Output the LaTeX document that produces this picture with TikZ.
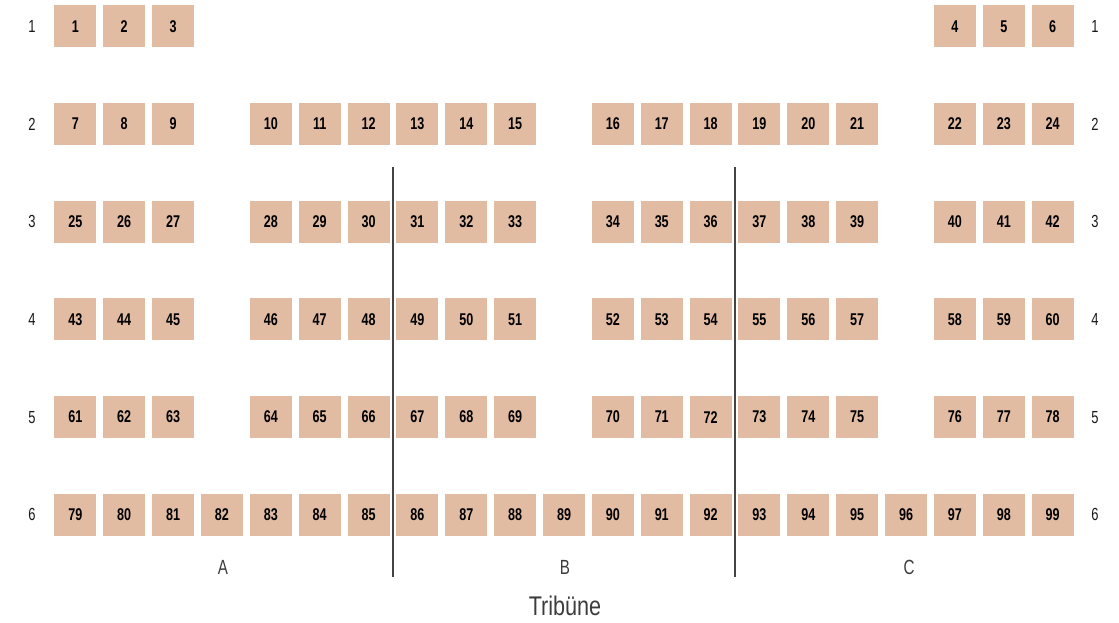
\documentclass[tikz,border=0pt]{standalone}
\usepackage{fontspec}
\setmainfont{Liberation Sans}[FakeStretch=0.74]
\newfontfamily\tribfont{Liberation Sans}[FakeStretch=0.8]
\definecolor{seat}{RGB}{225,187,162}
\definecolor{linec}{RGB}{68,68,68}
\definecolor{labc}{RGB}{60,60,60}
\begin{document}
\begin{tikzpicture}[x=1pt,y=-1pt,
  seatbox/.style={fill=seat, minimum size=42pt, inner sep=0pt, text=black,
    font=\fontsize{17}{17}\selectfont\bfseries},
  rowlab/.style={inner sep=0pt, text=black!90, font=\fontsize{17.5}{17.5}\selectfont},
  seclab/.style={inner sep=0pt, text=labc, font=\fontsize{20.5}{20.5}\selectfont},
  tribune/.style={inner sep=0pt, text=labc, font=\tribfont\fontsize{27}{27}\selectfont},
  sepline/.style={draw=linec, line width=1.3pt}]
\useasboundingbox (0,0) rectangle (1119,622);
% row 1
\foreach \c/\n in {1/1,2/2,3/3,19/4,20/5,21/6}
  \node[seatbox] (s\n) at ({75.3+(\c-1)*48.87},26.3) {\n};
% rows 2-5
\foreach \r in {2,...,5}{
  \foreach \c [count=\i from 0] in {1,2,3,5,6,7,8,9,10,12,13,14,15,16,17,19,20,21}{
    \pgfmathtruncatemacro\n{7+(\r-2)*18+\i}
    \node[seatbox] (s\n) at ({75.3+(\c-1)*48.87},{26.3+(\r-1)*97.7}) {\n};
  }
}
% row 6
\foreach \c in {1,...,21}{
  \pgfmathtruncatemacro\n{78+\c}
  \node[seatbox] (s\n) at ({75.3+(\c-1)*48.87},{26.3+5*97.7}) {\n};
}
% row labels
\foreach \r in {1,...,6}{
  \node[rowlab] (rl\r) at (32,{26.3+(\r-1)*97.7}) {\r};
  \node[rowlab] (rr\r) at (1095,{26.3+(\r-1)*97.7}) {\r};
}
% separators
\coordinate (la1) at (393,167.3);
\coordinate (la2) at (393,577.3);
\coordinate (lb1) at (735,167.3);
\coordinate (lb2) at (735,577.3);
\draw[sepline] (la1) -- (la2);
\draw[sepline] (lb1) -- (lb2);
% section labels
\node[seclab] (secA) at (223,567) {A};
\node[seclab] (secB) at (565,567) {B};
\node[seclab] (secC) at (909,567) {C};
\node[tribune] (trib) at (565,606) {Tribüne};
\end{tikzpicture}
\end{document}
